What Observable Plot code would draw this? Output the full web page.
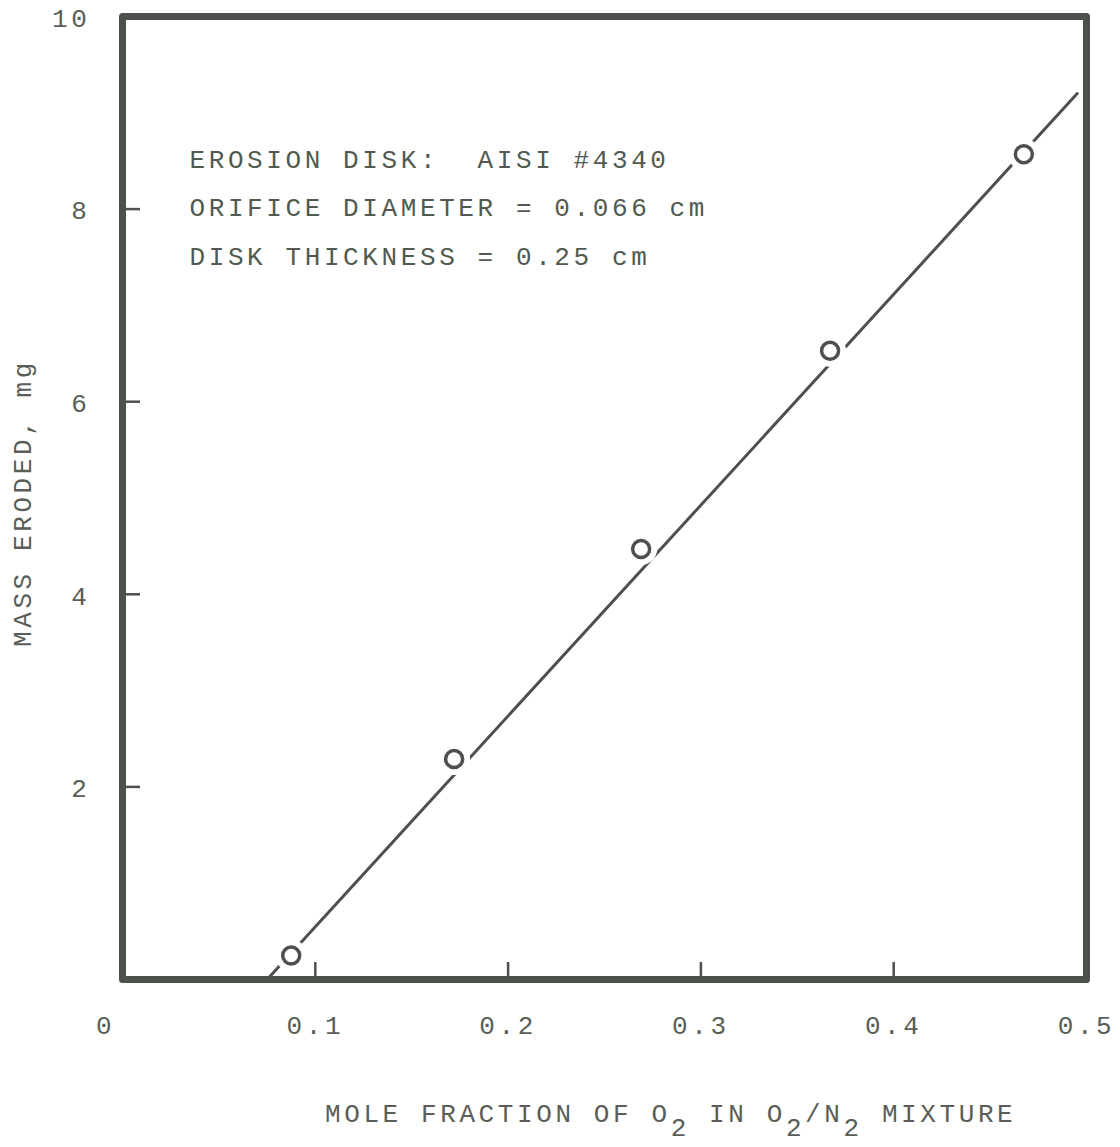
<!DOCTYPE html>
<html>
<head>
<meta charset="utf-8">
<script src="https://cdn.jsdelivr.net/npm/d3@7"></script>
<script src="https://cdn.jsdelivr.net/npm/@observablehq/plot@0.6"></script>
<style>
  html, body { margin: 0; padding: 0; background: #fff; }
  #wrap { position: relative; width: 1120px; height: 1147px; overflow: hidden; }
  #xlabel {
    position: absolute; left: 325px; top: 1102px; white-space: nowrap;
    font-family: "Liberation Mono", "DejaVu Sans Mono", monospace; font-size: 26px;
    line-height: 26px; letter-spacing: 3.6px; color: #5a5d58;
  }
  #xlabel .sub { position: relative; top: 14px; }
</style>
</head>
<body>
<div id="wrap">
  <div id="chart"></div>
  <div id="xlabel">MOLE FRACTION OF O<span class="sub">2</span> IN O<span class="sub">2</span>/N<span class="sub">2</span> MIXTURE</div>
</div>
<script>
// Measured data points (mole fraction of O2, mass eroded in mg)
const moleFraction = [0.0875, 0.172, 0.269, 0.367, 0.4675];
const massEroded = [0.25, 2.29, 4.47, 6.53, 8.57];
// Fitted straight line end points
const fitX = [0.075, 0.4952];
const fitY = [0, 9.2];
// Axes
const xTicks = [0.1, 0.2, 0.3, 0.4, 0.5];
const xTickLabels = ["0.1", "0.2", "0.3", "0.4", "0.5"];
const xInnerTicks = [0.1, 0.2, 0.3, 0.4];
const yTicks = [2, 4, 6, 8, 10];
const yInnerTicks = [2, 4, 6, 8];
const annotation = ["EROSION DISK:  AISI #4340", "ORIFICE DIAMETER = 0.066 cm", "DISK THICKNESS = 0.25 cm"];
const yLabel = "MASS ERODED, mg";

const points = moleFraction.map((x, i) => ({x, y: massEroded[i]}));
const fit = fitX.map((x, i) => ({x, y: fitY[i]}));

const W = 1120, H = 1090;
const mL = 122, mR = 34, mT = 16, mB = 111;
const innerW = W - mL - mR, innerH = H - mT - mB;
const ink = "#4c524b";
const txt = "#5a5d58";

const chart = Plot.plot({
  width: W, height: H,
  marginLeft: mL, marginRight: mR, marginTop: mT, marginBottom: mB,
  x: {domain: [0, 0.5]},
  y: {domain: [0, 10]},
  style: {fontFamily: "Liberation Mono, DejaVu Sans Mono, monospace", fontSize: "26px", letterSpacing: "3.6px", background: "#fff"},
  marks: [
    Plot.axisX({ticks: xTicks, tickSize: 0, tickPadding: 36, tickFormat: (d, i) => xTickLabels[i], fill: txt, label: null}),
    Plot.axisY({ticks: yTicks, tickSize: 0, tickPadding: 32, dy: 2, tickFormat: d => String(d), fill: txt, label: null}),
    Plot.text([0], {x: d => d, frameAnchor: "bottom", lineAnchor: "top", dy: 36, dx: -17, text: d => String(d), fill: txt}),
    Plot.text([yLabel], {frameAnchor: "left", rotate: -90, dx: -100, dy: 5, text: d => d, fill: txt, textAnchor: "middle"}),
    Plot.text([annotation.join("\n")], {frameAnchor: "top-left", textAnchor: "start", lineAnchor: "top", dx: 67, dy: 117, lineHeight: 1.86, text: d => d, fill: "#525a4f"}),
    Plot.tickX(xInnerTicks, {x: d => d, insetTop: innerH - 17, stroke: ink, strokeWidth: 2.5}),
    Plot.tickY(yInnerTicks, {y: d => d, insetRight: innerW - 18, stroke: ink, strokeWidth: 2.5}),
    Plot.line(fit, {x: "x", y: "y", stroke: ink, strokeWidth: 3}),
    Plot.dot(points, {x: "x", y: "y", r: 16, fill: "#fff", stroke: null}),
    Plot.dot(points, {x: "x", y: "y", r: 8.5, fill: "#fff", stroke: ink, strokeWidth: 3.5}),
    Plot.frame({stroke: ink, strokeWidth: 7, strokeLinejoin: "round"})
  ]
});
document.getElementById("chart").appendChild(chart);
</script>
</body>
</html>
